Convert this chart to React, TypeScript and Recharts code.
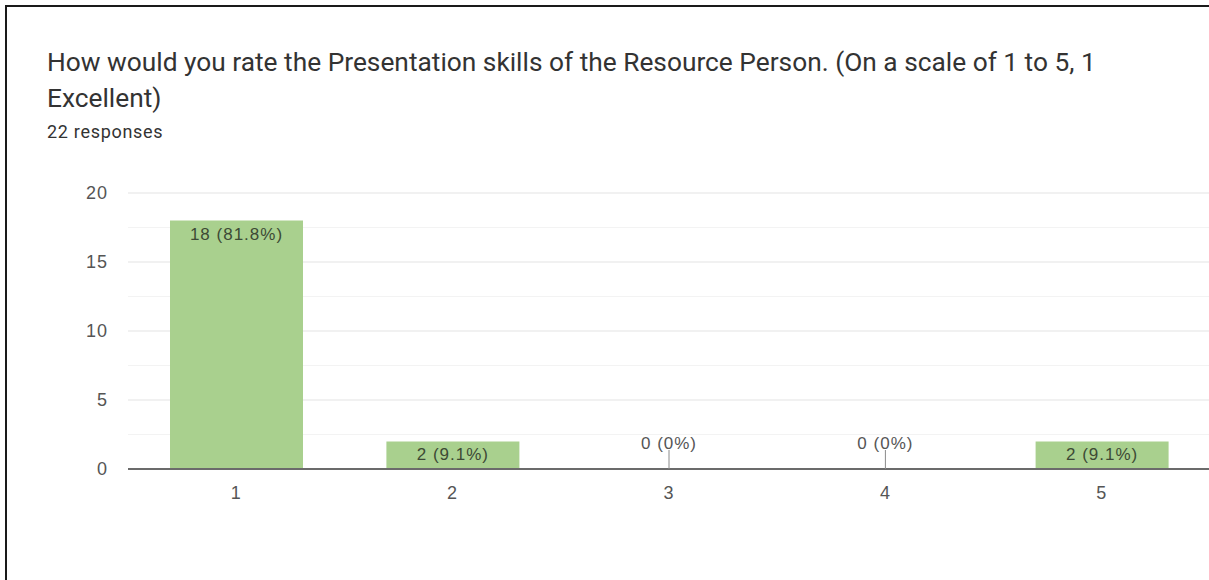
import { BarChart, Bar, XAxis, YAxis, CartesianGrid, LabelList } from 'recharts';

const ratings = ['1', '2', '3', '4', '5'];
const counts = [18, 2, 0, 0, 2];
const percents = ['81.8%', '9.1%', '0%', '0%', '9.1%'];
const yTicks = [0, 5, 10, 15, 20];
const minorTicks = [2.5, 7.5, 12.5, 17.5];

const data = ratings.map((r, i) => ({
  rating: r,
  count: counts[i],
  label: `${counts[i]} (${percents[i]})`,
}));

const chartFont = "'Liberation Sans', Arial, sans-serif";

// label sitting inside the top of a bar
function BarLabel(props: any) {
  const { x, y, width, value } = props;
  return (
    <text
      x={x + width / 2}
      y={y + 19}
      textAnchor="middle"
      fontSize={17}
      letterSpacing={1}
      fill="#3d4a35"
      fontFamily={chartFont}
    >
      {value}
    </text>
  );
}

// x tick; empty categories also get a small stub and their label above the axis
function RatingTick(props: any) {
  const { x, y, payload } = props;
  const i = ratings.indexOf(String(payload.value));
  return (
    <g>
      {i >= 0 && counts[i] === 0 && (
        <g>
          <line x1={x} x2={x} y1={y - 19} y2={y} stroke="#8a8a8a" strokeWidth={1} />
          <text x={x} y={y - 20} textAnchor="middle" fontSize={17} letterSpacing={1} fill="#555" fontFamily={chartFont}>
            {data[i].label}
          </text>
        </g>
      )}
      <text x={x} y={y + 30} textAnchor="middle" fontSize={18} letterSpacing={1} fill="#555" fontFamily={chartFont}>
        {payload.value}
      </text>
    </g>
  );
}

export default function App() {
  return (
    <div style={{ position: 'absolute', left: 0, top: 0, width: 1209, height: 580, background: '#fff', overflow: 'hidden' }}>
      <div
        style={{
          position: 'absolute',
          left: 5,
          top: 5,
          width: 1220,
          height: 600,
          borderLeft: '2px solid #1a1a1a',
          borderTop: '2px solid #1a1a1a',
        }}
      />
      <div
        style={{
          position: 'absolute',
          left: 47,
          top: 44,
          fontFamily: 'Roboto, sans-serif',
          fontSize: 26.3,
          lineHeight: '36px',
          color: '#333',
          width: 1150,
        }}
      >
        How would you rate the Presentation skills of the Resource Person. (On a scale of 1 to 5, 1
        <br />
        Excellent)
      </div>
      <div
        style={{
          position: 'absolute',
          left: 47,
          top: 121,
          fontFamily: 'Roboto, sans-serif',
          fontSize: 18,
          letterSpacing: 0.7,
          color: '#333',
        }}
      >
        22 responses
      </div>
      <div style={{ position: 'absolute', left: 0, top: 0 }}>
        <BarChart
          width={1210}
          height={580}
          data={data}
          margin={{ top: 193, right: 0, bottom: 81, left: 68 }}
          barCategoryGap={0}
        >
          <CartesianGrid vertical={false} horizontalValues={minorTicks} stroke="#f3f3f3" strokeWidth={1} />
          <CartesianGrid vertical={false} stroke="#e3e3e3" strokeWidth={1} />
          <XAxis
            dataKey="rating"
            height={30}
            axisLine={{ stroke: '#6b6b6b', strokeWidth: 2 }}
            tickLine={false}
            tickSize={0}
            tickMargin={0}
            tick={<RatingTick />}
          />
          <YAxis
            width={60}
            domain={[0, 20]}
            ticks={yTicks}
            axisLine={false}
            tickLine={false}
            tickSize={0}
            tickMargin={20}
            tick={{ fontSize: 18, fill: '#555', fontFamily: chartFont, letterSpacing: 1 }}
          />
          <Bar dataKey="count" fill="#a9d08e" barSize={133} isAnimationActive={false}>
            <LabelList dataKey="label" content={<BarLabel />} />
          </Bar>
        </BarChart>
      </div>
    </div>
  );
}
